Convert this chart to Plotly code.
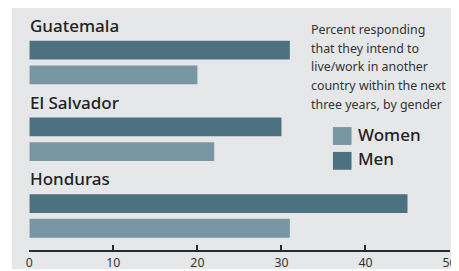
import plotly.graph_objects as go

countries = ["Guatemala", "El Salvador", "Honduras"]
men = [31, 30, 45]
women = [20, 22, 31]
tick_vals = [0, 10, 20, 30, 40, 50]
note_lines = ["Percent responding", "that they intend to", "live/work in another",
              "country within the next", "three years, by gender"]
legend_items = ["Women", "Men"]

MEN_C = "#4d7181"
WOMEN_C = "#7896a3"
BG = "#e6e7e9"
TXT = "#222222"
FONT = "Noto Sans"

# Mapping from reference-picture pixels to figure pixels
# (page body margin of 8px, horizontal capture scale observed ~0.971)
O = 8
S = 0.971
AX = 4.0
W, H = 461, 263


def FX(r):
    return (r - AX) / S - O


def FY(r):
    return r - O


def px(r):
    return FX(r) / W


def py(r):
    return 1 - FY(r) / H


AXIS_Y = FY(252)
c0 = FY(63)
unit = 77.25

fig = go.Figure()
fig.add_trace(go.Bar(y=countries, x=men, orientation="h", name="Men",
                     marker=dict(color=MEN_C, line=dict(width=0)), showlegend=False))
fig.add_trace(go.Bar(y=countries, x=women, orientation="h", name="Women",
                     marker=dict(color=WOMEN_C, line=dict(width=0)), showlegend=False))

shapes = [
    dict(type="rect", xref="paper", yref="paper", x0=max(0, px(9)), x1=1, y0=0,
         y1=min(1, py(7)), fillcolor=BG, line=dict(width=0), layer="below"),
]
annotations = []
for c in countries:
    annotations.append(dict(x=0, y=c, xref="x", yref="y", text=c, showarrow=False,
                            xanchor="left", yanchor="middle", yshift=37, xshift=-1,
                            font=dict(family=FONT, size=17, color=TXT, weight=500)))
for i, line in enumerate(note_lines):
    annotations.append(dict(x=px(307), y=py(30 + i * 18.7), xref="paper", yref="paper",
                            text=line, showarrow=False, xanchor="left", yanchor="middle",
                            font=dict(family=FONT, size=12.4, color="#333333")))
leg_colors = {"Women": WOMEN_C, "Men": MEN_C}
for i, name in enumerate(legend_items):
    yc = 137 + i * 25
    shapes.append(dict(type="rect", xref="paper", yref="paper", x0=px(331), x1=px(349.5),
                       y0=py(yc + 9), y1=py(yc - 9), fillcolor=leg_colors[name],
                       line=dict(width=0)))
    annotations.append(dict(x=px(354), y=py(yc - 2), xref="paper", yref="paper",
                            text=name, showarrow=False, xanchor="left", yanchor="middle",
                            font=dict(family=FONT, size=17, color=TXT, weight=500)))

fig.update_layout(
    width=W, height=H, margin=dict(l=0, r=0, t=0, b=0),
    paper_bgcolor="white", plot_bgcolor="rgba(0,0,0,0)",
    barmode="group", bargap=0.355, bargroupgap=0.24,
    shapes=shapes, annotations=annotations, showlegend=False,
    xaxis=dict(domain=[px(29), px(447)], range=[0, 50], tickvals=tick_vals,
               showgrid=False, zeroline=False, showline=True, linecolor="#2a2a2a",
               linewidth=2, ticks="inside", ticklen=5, tickwidth=1.5, tickcolor="#2a2a2a",
               tickfont=dict(family=FONT, size=12.3, color="#333333"), anchor="y"),
    yaxis=dict(domain=[1 - AXIS_Y / H, 1],
               range=[(AXIS_Y - c0) / unit, (0 - c0) / unit],
               showgrid=False, zeroline=False, showline=False, showticklabels=False,
               ticks=""),
)
fig.write_html("out.html")
